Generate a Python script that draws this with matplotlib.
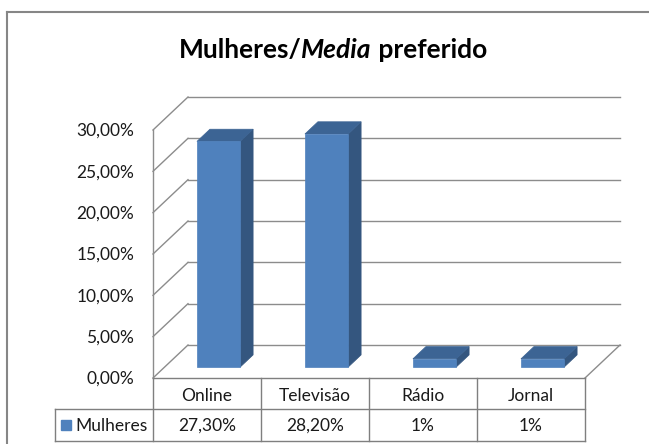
import matplotlib
matplotlib.use("Agg")
import matplotlib.pyplot as plt
from matplotlib.patches import Polygon
from matplotlib.lines import Line2D
from matplotlib.transforms import IdentityTransform

categories = ["Online", "Televisão", "Rádio", "Jornal"]
values = [27.3, 28.2, 1.0, 1.0]
value_labels = ["27,30%", "28,20%", "1%", "1%"]
series_name = "Mulheres"
y_ticks = [0, 5, 10, 15, 20, 25, 30]
title_plain = "Mulheres/"
title_italic = "Media"
title_tail = " preferido"

W, H = 649, 444
plt.rcParams['font.family'] = ['Lato', 'DejaVu Sans']

fig = plt.figure(figsize=(W / 100, H / 100), dpi=100)
# front plane of the 3D box (pixels): x 153..585, y 378..130 (from top)
ax = fig.add_axes([153 / W, (H - 378) / H, 432 / W, 248 / H])
ax.set_xlim(-0.5, 3.5)
ax.set_ylim(0, 30)
ax.axis("off")

DX, DY = 35, 33  # depth offset in pixels (front -> back wall)
ident = IdentityTransform()


def P(x, y, d):
    px, py = ax.transData.transform((x, y))
    return (px + DX * d, py + DY * d)


grid_c = "#8c8c8c"
txt_c = "#1a1a1a"
fs = 12.5


def line(a, b, c=grid_c, lw=1.0, z=1):
    fig.add_artist(Line2D([a[0], b[0]], [a[1], b[1]], color=c, lw=lw,
                          transform=ident, zorder=z))


x0, x1 = -0.5, len(categories) - 0.5
# back wall gridlines and left wall
for t in y_ticks:
    line(P(x0, t, 1), P(x1, t, 1))
    line(P(x0, t, 0), P(x0, t, 1))
line(P(x0, 0, 0), P(x0, y_ticks[-1], 0))
line(P(x1, 0, 0), P(x1, 0, 1))

# tick labels
for t in y_ticks:
    px, py = P(x0, t, 0)
    fig.text((px - 19) / W, (py - 1) / H, f"{t:.2f}".replace(".", ",") + "%",
             ha="right", va="center", fontsize=fs, color=txt_c)

# bars
front_c, side_c, top_c = "#4f81bd", "#34567f", "#3c6494"
bw = 0.4
d0, d1 = 0.33, 0.70
for i, v in enumerate(values):
    l, r = i - bw / 2, i + bw / 2
    side = [P(r, 0, d0), P(r, 0, d1), P(r, v, d1), P(r, v, d0)]
    top = [P(l, v, d0), P(r, v, d0), P(r, v, d1), P(l, v, d1)]
    front = [P(l, 0, d0), P(r, 0, d0), P(r, v, d0), P(l, v, d0)]
    for pts, c in ((side, side_c), (top, top_c), (front, front_c)):
        fig.add_artist(Polygon(pts, closed=True, fc=c, ec=c, lw=0.5,
                               transform=ident, zorder=3))

# data table
tab_c = "#7f7f7f"
_, y_top = P(x0, 0, 0)
y_mid = y_top - 31
y_bot = y_top - 63
leg_left = 55
xs = [P(x0 + k, 0, 0)[0] for k in range(len(categories) + 1)]
line((xs[0], y_top), (xs[-1], y_top), tab_c)
line((leg_left, y_mid), (xs[-1], y_mid), tab_c)
line((leg_left, y_bot), (xs[-1], y_bot), tab_c)
line((leg_left, y_mid), (leg_left, y_bot), tab_c)
for xv in xs:
    line((xv, y_top), (xv, y_bot), tab_c)
for i, (c, vl) in enumerate(zip(categories, value_labels)):
    cx = (xs[i] + xs[i + 1]) / 2
    fig.text(cx / W, ((y_top + y_mid) / 2 - 2) / H, c, ha="center",
             va="center", fontsize=fs, color=txt_c)
    fig.text(cx / W, ((y_mid + y_bot) / 2 - 1) / H, vl, ha="center",
             va="center", fontsize=fs, color=txt_c)
ym = (y_mid + y_bot) / 2
fig.add_artist(Polygon([(61, ym - 5), (71, ym - 5), (71, ym + 5), (61, ym + 5)],
                       closed=True, fc=front_c, ec=front_c, transform=ident))
fig.text(75 / W, (ym - 1) / H, series_name, ha="left", va="center",
         fontsize=fs, color=txt_c)

# outer frame (left and top edges visible)
line((7, H - 12), (W, H - 12), "#868686", 1.5)
line((7, H - 12), (7, 0), "#868686", 1.5)

# title with italic word
tfs = 19
ty = (H - 50) / H
t1 = fig.text(0.5 + 10 / W, ty, title_plain + title_italic + title_tail,
              ha="center", va="center", fontsize=tfs, fontweight="bold",
              alpha=0)
fig.canvas.draw()
bb = t1.get_window_extent()
a = fig.text(bb.x0 / W, ty, title_plain, ha="left", va="center", fontsize=tfs,
             fontweight="bold")
fig.canvas.draw()
bx = a.get_window_extent().x1
b = fig.text(bx / W, ty, title_italic, ha="left", va="center", fontsize=tfs,
             fontweight="bold", style="italic")
fig.canvas.draw()
cx2 = b.get_window_extent().x1
fig.text(cx2 / W, ty, title_tail, ha="left", va="center", fontsize=tfs,
         fontweight="bold")

fig.savefig("out.png", dpi=100)
